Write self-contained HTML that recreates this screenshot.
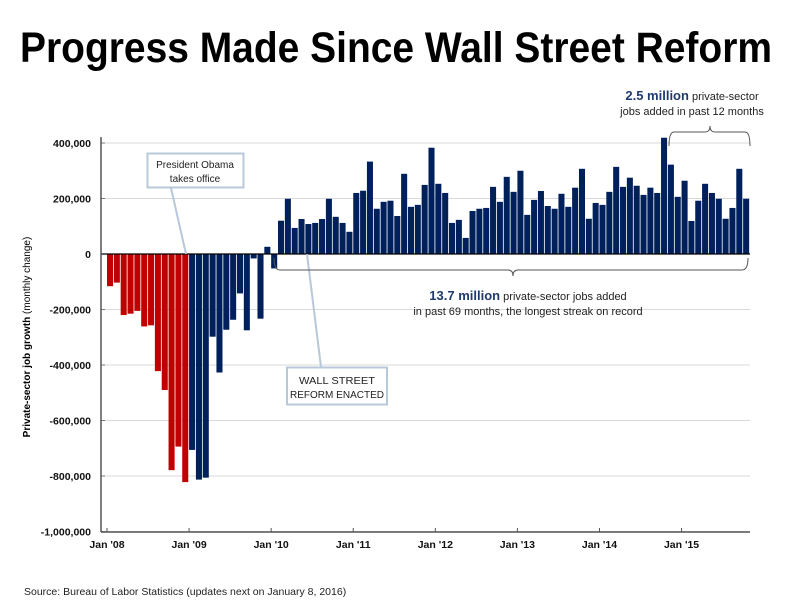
<!DOCTYPE html>
<html><head><meta charset="utf-8"><style>
html,body{margin:0;padding:0;background:#fff;}
svg{display:block;font-family:"Liberation Sans",sans-serif;}
</style></head><body>
<svg id="chart" width="792" height="612" viewBox="0 0 792 612">
<text x="20" y="62" font-size="43" font-weight="bold" fill="#000" textLength="752" lengthAdjust="spacingAndGlyphs">Progress Made Since Wall Street Reform</text>
<g id="grid"></g>
<g id="bars"></g>
<g id="axes"></g>
<text transform="translate(30,337) rotate(-90)" text-anchor="middle" font-size="10" fill="#000"><tspan font-weight="bold">Private-sector job growth</tspan> (monthly change)</text>
<g>
<line x1="171" y1="188" x2="186" y2="254" stroke="#b8c8da" stroke-width="2"/>
<rect x="147.5" y="153.5" width="96" height="34" fill="#fff" stroke="#b8c8da" stroke-width="2"/>
<text x="195" y="168" text-anchor="middle" font-size="10" fill="#222">President Obama</text>
<text x="195" y="182" text-anchor="middle" font-size="10" fill="#222">takes office</text>
</g>
<g>
<line x1="307" y1="254" x2="321" y2="367" stroke="#b8c8da" stroke-width="2"/>
<rect x="287" y="367.5" width="100" height="37" fill="#fff" stroke="#b8c8da" stroke-width="2"/>
<text x="337" y="384" text-anchor="middle" font-size="10.5" fill="#222" textLength="76" lengthAdjust="spacingAndGlyphs">WALL STREET</text>
<text x="337" y="398" text-anchor="middle" font-size="10.5" fill="#222" textLength="94" lengthAdjust="spacingAndGlyphs">REFORM ENACTED</text>
</g>
<g>
<path d="M274,258 Q274,270 280,270 L508,270 Q513,270 513,276 Q513,270 518,270 L742,270 Q748,270 748,258" fill="none" stroke="#555" stroke-width="1"/>
<text x="528" y="300" text-anchor="middle" font-size="11" fill="#222"><tspan font-weight="bold" font-size="13" fill="#1f3a6e">13.7 million</tspan> private-sector jobs added</text>
<text x="528" y="315" text-anchor="middle" font-size="11" fill="#222">in past 69 months, the longest streak on record</text>
</g>
<g>
<path d="M669,146 Q669,132 674,132 L705,132 Q710,132 710,126 Q710,132 715,132 L745,132 Q750,132 750,146" fill="none" stroke="#555" stroke-width="1"/>
<text x="692" y="100" text-anchor="middle" font-size="11" fill="#222"><tspan font-weight="bold" font-size="13" fill="#1f3a6e">2.5 million</tspan> private-sector</text>
<text x="692" y="115" text-anchor="middle" font-size="11" fill="#222">jobs added in past 12 months</text>
</g>
<text x="24" y="595" font-size="10.5" fill="#222">Source: Bureau of Labor Statistics (updates next on January 8, 2016)</text>
</svg>
<script>
const values = [-116,-103,-220,-215,-205,-261,-257,-422,-490,-779,-694,-822,
-706,-813,-806,-298,-427,-273,-237,-142,-275,-16,-233,26,
-52,120,199,94,126,108,112,126,199,134,112,80,
220,228,333,163,188,192,137,289,170,177,249,383,
253,220,112,123,58,155,163,166,242,188,278,224,
300,141,195,227,173,163,217,170,239,307,127,184,
177,224,314,242,275,246,213,239,220,419,322,206,
264,119,192,253,220,199,127,166,307,199].map(v=>v*1000);
const yTicks = [400000,200000,0,-200000,-400000,-600000,-800000,-1000000];
const xLabels = ["Jan '08","Jan '09","Jan '10","Jan '11","Jan '12","Jan '13","Jan '14","Jan '15"];
const redCount = 12;

const NS="http://www.w3.org/2000/svg";
const y = v => 254 - v*0.0002775;
const step = 6.84;
const x = i => 107 + i*step;
function mk(tag, attrs, parent){const e=document.createElementNS(NS,tag);for(const k in attrs)e.setAttribute(k,attrs[k]);parent.appendChild(e);return e;}
const grid=document.getElementById('grid'), bars=document.getElementById('bars'), axes=document.getElementById('axes');
yTicks.forEach(t=>{
  if(t!==0){const g=mk('line',{x1:101,x2:750,y1:y(t),y2:y(t),stroke:'#d9d9d9','stroke-width':1},grid);
  
  }
  const tk=mk('line',{x1:101,x2:105,y1:y(t),y2:y(t),stroke:'#777'},axes);
  
  
  const lb=mk('text',{x:91,y:y(t)+4,'text-anchor':'end','font-size':10.5,'font-weight':'bold',fill:'#111'},axes);
  lb.textContent=t.toLocaleString('en-US');
  
  
});
values.forEach((v,i)=>{
  const top=Math.min(y(v),y(0)), h=Math.abs(y(v)-y(0));
  const r=mk('rect',{x:x(i),y:top,width:step-0.8,height:Math.max(h,0.5),fill:i<redCount?'#c00000':'#00205b'},bars);
  
  
});
const z=mk('line',{x1:101,x2:750,y1:y(0),y2:y(0),stroke:'#000','stroke-width':1.2},axes);


const ya=mk('line',{x1:101,x2:101,y1:137,y2:532,stroke:'#555','stroke-width':1.5},axes);


const xa=mk('line',{x1:101,x2:750,y1:532,y2:532,stroke:'#555','stroke-width':1.5},axes);


xLabels.forEach((l,k)=>{
  const xi=x(k*12);
  const tk=mk('line',{x1:xi,x2:xi,y1:528,y2:532,stroke:'#555'},axes);
  
  
  const t=mk('text',{x:xi,y:548,'text-anchor':'middle','font-size':10.5,'font-weight':'bold',fill:'#111'},axes);
  t.textContent=l;
  
  
});
</script>
</body></html>
